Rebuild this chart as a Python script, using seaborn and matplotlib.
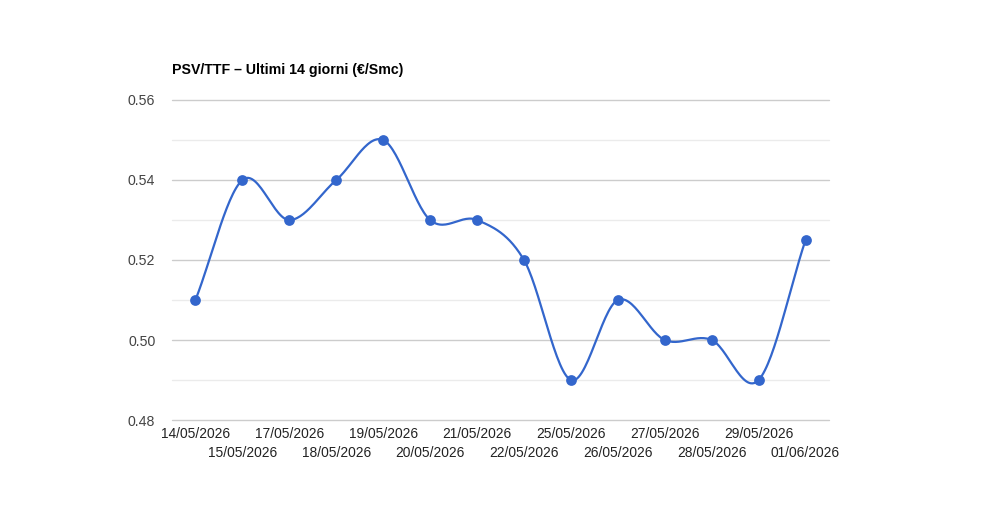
import numpy as np
import pandas as pd
import matplotlib
matplotlib.use("Agg")
import matplotlib.pyplot as plt
import seaborn as sns

dates = ["14/05/2026", "15/05/2026", "17/05/2026", "18/05/2026", "19/05/2026",
         "20/05/2026", "21/05/2026", "22/05/2026", "25/05/2026", "26/05/2026",
         "27/05/2026", "28/05/2026", "29/05/2026", "01/06/2026"]
values = [0.51, 0.54, 0.53, 0.54, 0.55, 0.53, 0.53, 0.52, 0.49, 0.51, 0.50, 0.50, 0.49, 0.525]
y_ticks = [0.48, 0.50, 0.52, 0.54, 0.56]
title = "PSV/TTF – Ultimi 14 giorni (€/Smc)"

sns.set_theme(style="white")
plt.rcParams['font.family'] = ['Liberation Sans', 'DejaVu Sans']

idx = np.arange(len(values))
vals = np.array(values)

# Catmull-Rom smoothing through the data points
def catmull(x, y, n=30, t=0.5):
    xs, ys = [], []
    P = np.column_stack([x, y])
    P = np.vstack([P[0] - (P[1] - P[0]), P, P[-1] + (P[-1] - P[-2])])
    for i in range(1, len(P) - 2):
        p0, p1, p2, p3 = P[i - 1], P[i], P[i + 1], P[i + 2]
        m1 = t * (p2 - p0)
        m2 = t * (p3 - p1)
        for s in np.linspace(0, 1, n, endpoint=False):
            h00 = 2*s**3 - 3*s**2 + 1
            h10 = s**3 - 2*s**2 + s
            h01 = -2*s**3 + 3*s**2
            h11 = s**3 - s**2
            pt = h00*p1 + h10*m1 + h01*p2 + h11*m2
            xs.append(pt[0]); ys.append(pt[1])
    xs.append(P[-2][0]); ys.append(P[-2][1])
    return np.array(xs), np.array(ys)

sx, sy = catmull(idx.astype(float), vals)
smooth = pd.DataFrame({"x": sx, "y": sy})
pts = pd.DataFrame({"x": idx, "y": vals})

fig = plt.figure(figsize=(10, 5.2), dpi=100)
ax = fig.add_axes([0.172, 0.1923, 0.657, 0.6154])

# gridlines
for k in range(9):
    v = 0.48 + 0.01 * k
    major = (k % 2 == 0)
    ax.axhline(v, color="#cccccc" if major else "#ebebeb", lw=1, zorder=0,
               clip_on=False)

sns.lineplot(data=smooth, x="x", y="y", ax=ax, color="#3366cc", lw=1.6,
             sort=False, estimator=None, zorder=3)
sns.scatterplot(data=pts, x="x", y="y", ax=ax, color="#3366cc", s=60,
                edgecolor="#3366cc", linewidth=0, zorder=4)

ax.set_xlim(-0.5, len(values) - 0.5)
ax.set_ylim(0.48, 0.56)
ax.set_yticks(y_ticks)
ax.set_yticklabels([f"{t:.2f}" for t in y_ticks], fontsize=10.2, color="#444444")
ax.set_xticks(idx)
ax.set_xticklabels(dates, fontsize=9.9, color="#222222")
for i, tk in enumerate(ax.xaxis.get_major_ticks()):
    tk.set_pad(5 if i % 2 == 0 else 18.5)
ax.tick_params(axis="both", length=0)
ax.tick_params(axis="y", pad=12)
ax.set_xlabel("")
ax.set_ylabel("")
for s in ax.spines.values():
    s.set_visible(False)

fig.text(0.172, 1 - 70 / 520, title, fontsize=10.2, fontweight="bold",
         color="#000000", ha="left", va="center")

fig.savefig("out.png", dpi=100, facecolor="white")
